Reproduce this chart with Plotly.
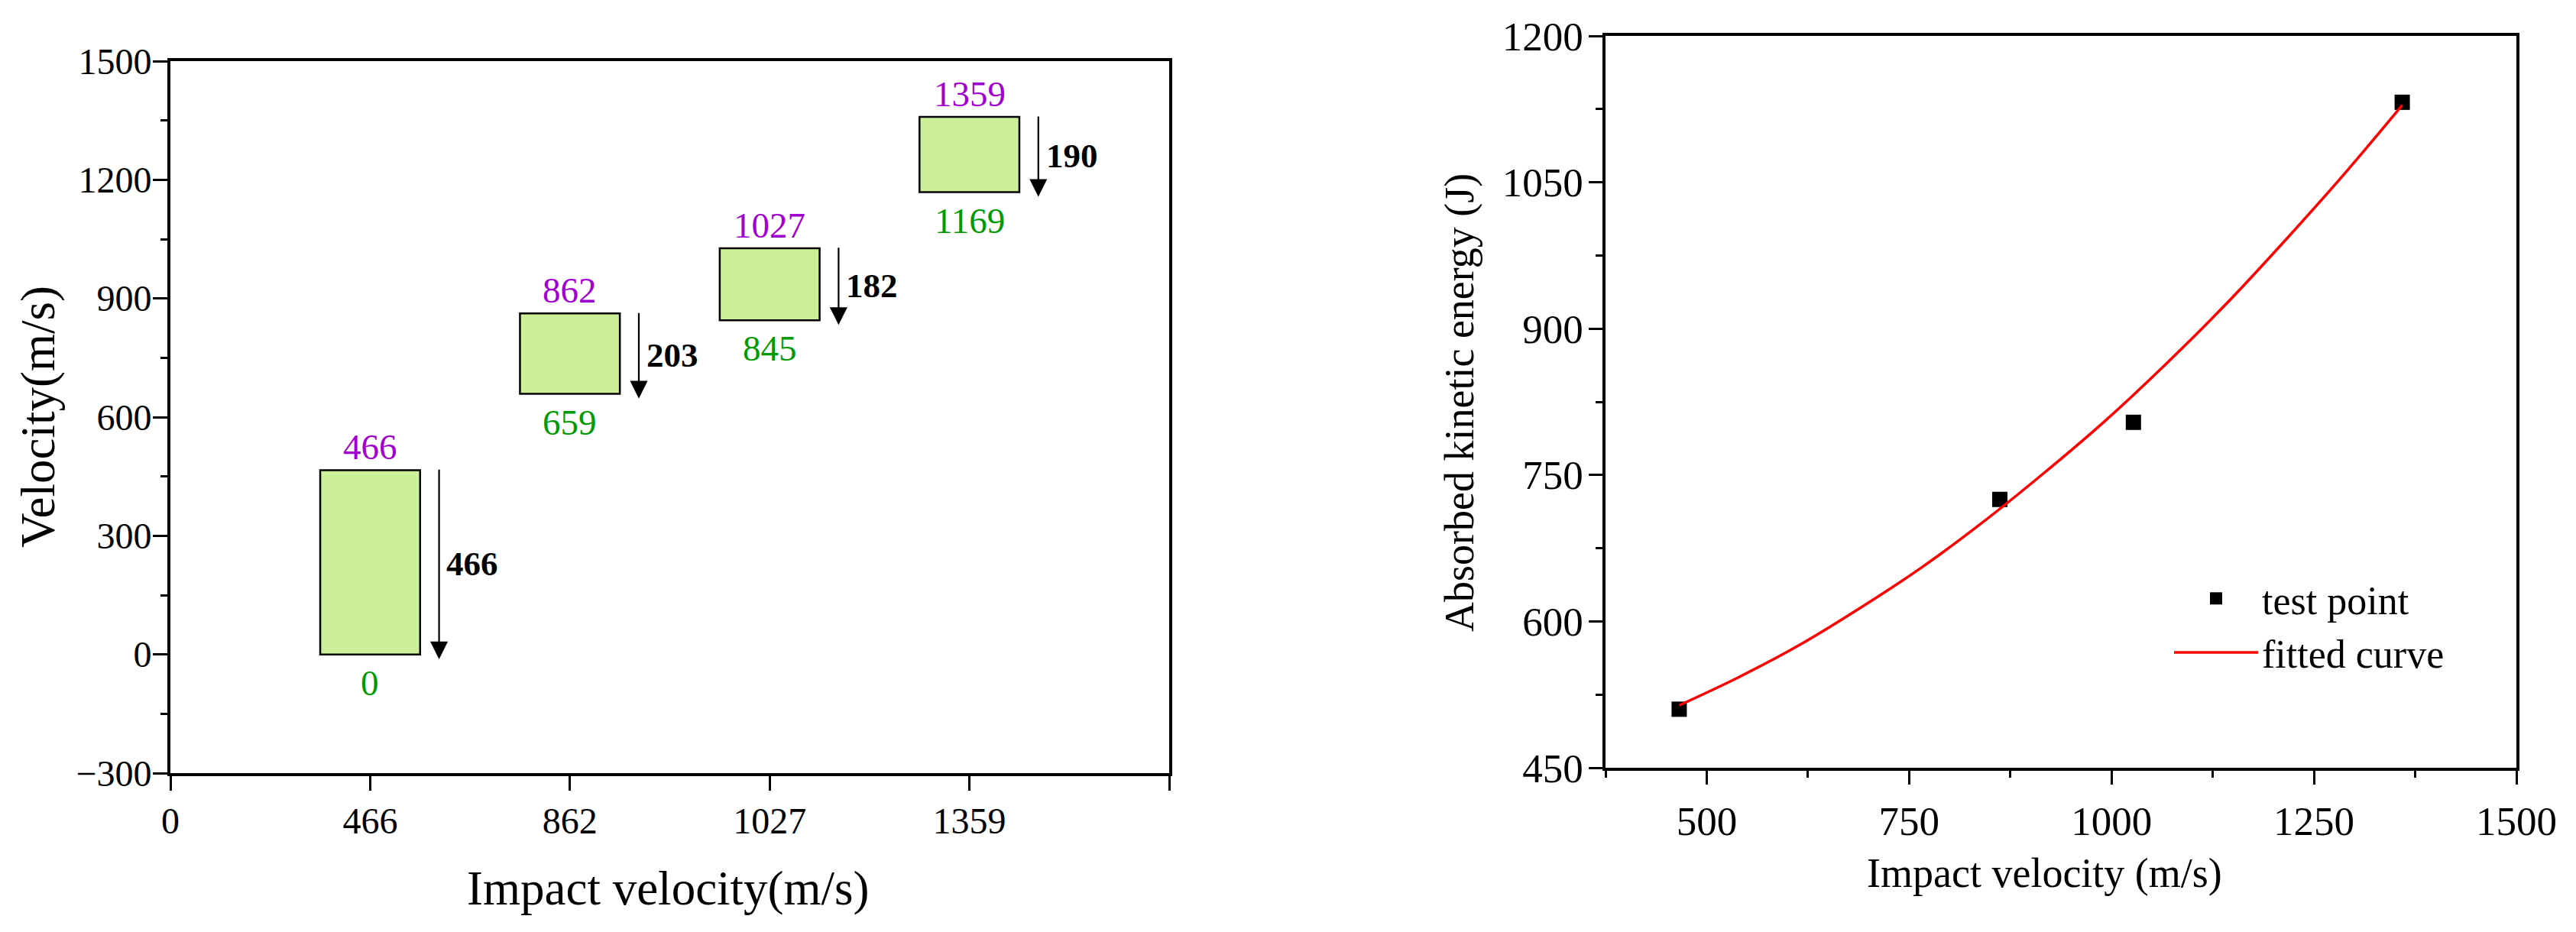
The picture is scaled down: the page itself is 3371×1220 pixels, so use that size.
import plotly.graph_objects as go

# ---------------- data ----------------
# left panel: impact (initial) and residual velocity per test
impact_velocity = [466, 862, 1027, 1359]
residual_velocity = [0, 659, 845, 1169]
x_tick_labels = ["0", "466", "862", "1027", "1359", ""]

# right panel: absorbed kinetic energy vs impact velocity
test_x = [466, 862, 1027, 1359]
test_y = [510, 725, 804, 1132]
fit_x = [466, 540, 615, 690, 765, 840, 915, 990, 1065, 1140, 1215, 1290, 1359]
fit_y = [514, 543, 576, 614, 655, 701, 751, 804, 862, 924, 991, 1061, 1129]

FONT = "Liberation Serif"
W, H = 3371, 1220
PURPLE = "#A000D0"
GREEN = "#009A00"
BOXFILL = "#CCF09A"

positions = list(range(1, len(impact_velocity) + 1))
drops = [t - b for t, b in zip(impact_velocity, residual_velocity)]

fig = go.Figure()

# boxes as floating bars
fig.add_trace(go.Bar(
    x=positions, y=drops, base=residual_velocity, width=0.5,
    marker=dict(color=BOXFILL, line=dict(color="black", width=2.5)),
    showlegend=False, hoverinfo="skip", xaxis="x", yaxis="y"))

annotations = []
for p, top, bot, d in zip(positions, impact_velocity, residual_velocity, drops):
    annotations.append(dict(x=p, y=top + 58, xref="x", yref="y", text=str(top),
                            showarrow=False, font=dict(family=FONT, size=47, color=PURPLE),
                            xanchor="center", yanchor="middle"))
    annotations.append(dict(x=p, y=bot - 72, xref="x", yref="y", text=str(bot),
                            showarrow=False, font=dict(family=FONT, size=47, color=GREEN),
                            xanchor="center", yanchor="middle"))
    # downward arrow from top to bottom of box
    annotations.append(dict(x=p + 0.345, y=bot - 12, ax=p + 0.345, ay=top + 4, xref="x", yref="y",
                            axref="x", ayref="y", text="", showarrow=True, arrowhead=2,
                            arrowsize=2.1, arrowwidth=2.2, arrowcolor="black"))
    annotations.append(dict(x=p + 0.375, y=(top + bot) / 2 - 4, xref="x", yref="y",
                            text="<b>%d</b>" % d, showarrow=False,
                            font=dict(family=FONT, size=45, color="black"),
                            xanchor="left", yanchor="middle"))

# right panel traces
fig.add_trace(go.Scatter(
    x=test_x, y=test_y, mode="markers", name="test point",
    marker=dict(symbol="square", size=20, color="black"),
    xaxis="x2", yaxis="y2"))
fig.add_trace(go.Scatter(
    x=fit_x, y=fit_y, mode="lines", name="fitted curve",
    line=dict(color="red", width=3.5, shape="spline", smoothing=1.0),
    xaxis="x2", yaxis="y2"))

# axis titles (as annotations in paper space)
annotations += [
    dict(x=875 / W, y=1 - 1163 / H, xref="paper", yref="paper", text="Impact velocity(m/s)",
         showarrow=False, font=dict(family=FONT, size=63, color="black"),
         xanchor="center", yanchor="middle"),
    dict(x=50 / W, y=1 - 546 / H, xref="paper", yref="paper", text="Velocity(m/s)",
         textangle=-90, showarrow=False, font=dict(family=FONT, size=63, color="black"),
         xanchor="center", yanchor="middle"),
    dict(x=2675 / W, y=1 - 1143 / H, xref="paper", yref="paper", text="Impact velocity (m/s)",
         showarrow=False, font=dict(family=FONT, size=54, color="black"),
         xanchor="center", yanchor="middle"),
    dict(x=1910 / W, y=1 - 527 / H, xref="paper", yref="paper",
         text="Absorbed kinetic energy (J)", textangle=-90, showarrow=False,
         font=dict(family=FONT, size=54, color="black"), xanchor="center", yanchor="middle"),
]

common_axis = dict(showline=True, linecolor="black", mirror=True, showgrid=False,
                   zeroline=False, ticks="outside", tickcolor="black", automargin=False)

fig.update_layout(
    width=W, height=H,
    margin=dict(l=0, r=0, t=0, b=0),
    paper_bgcolor="white", plot_bgcolor="white",
    font=dict(family=FONT, color="black"),
    barmode="overlay",
    annotations=annotations,
    xaxis=dict(domain=[223 / W, 1530 / W], range=[0, 5], tickmode="array",
               tickvals=list(range(len(x_tick_labels))), ticktext=x_tick_labels,
               linewidth=4, ticklen=19, tickwidth=3, ticklabelstandoff=-2,
               tickfont=dict(family=FONT, size=48), anchor="y", **common_axis),
    yaxis=dict(domain=[1 - 1012 / H, 1 - 80 / H], range=[-300, 1500], tick0=0, dtick=300,
               linewidth=4, ticklen=19, tickwidth=3, ticklabelstandoff=-8,
               tickfont=dict(family=FONT, size=48), anchor="x",
               minor=dict(dtick=150, ticklen=9, tickwidth=3, tickcolor="black", ticks="outside"),
               **common_axis),
    xaxis2=dict(domain=[2101 / W, 3293 / W], range=[375, 1500], tick0=500, dtick=250,
                linewidth=3.5, ticklen=18, tickwidth=3, ticklabelstandoff=3,
                tickfont=dict(family=FONT, size=53), anchor="y2",
                minor=dict(dtick=125, ticklen=9, tickwidth=3, tickcolor="black", ticks="outside"),
                **common_axis),
    yaxis2=dict(domain=[1 - 1005 / H, 1 - 47 / H], range=[450, 1200], tick0=450, dtick=150,
                linewidth=3.5, ticklen=18, tickwidth=3, ticklabelstandoff=-3,
                tickfont=dict(family=FONT, size=53), anchor="x2",
                minor=dict(dtick=75, ticklen=9, tickwidth=3, tickcolor="black", ticks="outside"),
                **common_axis),
    showlegend=True,
    legend=dict(x=2840 / W, y=1 - 743 / H, xanchor="left", yanchor="top",
                bgcolor="rgba(0,0,0,0)", font=dict(family=FONT, size=52),
                itemwidth=110, tracegroupgap=0),
)

fig.write_html("out.html")
